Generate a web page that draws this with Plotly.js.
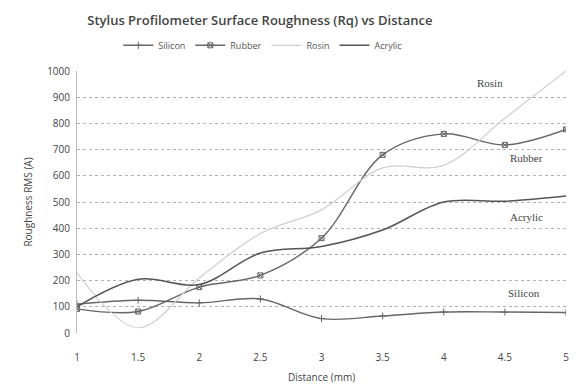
<!DOCTYPE html>
<html><head><meta charset="utf-8">
<script src="https://cdn.plot.ly/plotly-3.0.1.min.js"></script>
<style>html,body{margin:0;padding:0;background:#fff}#c{width:580px;height:389px}</style>
</head><body><div id="c"></div>
<script>
var distance = [1, 1.5, 2, 2.5, 3, 3.5, 4, 4.5, 5];
var silicon = [110, 125, 115, 130, 55, 65, 80, 80, 78];
var rubber = [92, 82, 175, 220, 362, 680, 760, 718, 777];
var rosin = [230, 20, 210, 380, 470, 630, 640, 820, 1000];
var acrylic = [100, 205, 185, 305, 330, 393, 500, 503, 523];
var xTicks = [1, 1.5, 2, 2.5, 3, 3.5, 4, 4.5, 5];
var xTickText = ['1', '1.5', '2', '2.5', '3', '3.5', '4', '4.5', '5'];
var seriesLabels = [
  {text: 'Rosin', x: 4.38, y: 955},
  {text: 'Rubber', x: 4.68, y: 668},
  {text: 'Acrylic', x: 4.68, y: 443},
  {text: 'Silicon', x: 4.66, y: 153}
];

var traces = [
  {x: distance, y: silicon, name: 'Silicon', mode: 'lines+markers',
   line: {color: '#666', width: 1.4, shape: 'spline', smoothing: 1},
   marker: {symbol: 'cross-thin-open', size: 5, color: '#666', line: {color: '#666', width: 1}}},
  {x: distance, y: rubber, name: 'Rubber', mode: 'lines+markers',
   line: {color: '#666', width: 1.4, shape: 'spline', smoothing: 1},
   marker: {symbol: 'square-x-open', size: 5, color: '#666', line: {color: '#666', width: 1}}},
  {x: distance, y: rosin, name: 'Rosin', mode: 'lines',
   line: {color: '#cfcfcf', width: 1.2, shape: 'spline', smoothing: 1}},
  {x: distance, y: acrylic, name: 'Acrylic', mode: 'lines',
   line: {color: '#555', width: 1.5, shape: 'spline', smoothing: 1}}
];

var layout = {
  width: 580, height: 389,
  margin: {l: 77, r: 14, t: 71, b: 56},
  paper_bgcolor: '#fff', plot_bgcolor: '#fff',
  font: {family: 'Open Sans, Liberation Sans, sans-serif', size: 10, color: '#444'},
  title: {text: 'Stylus Profilometer Surface Roughness (Rq) vs Distance',
          font: {size: 13, color: '#444', family: 'Open Sans, sans-serif', weight: 600},
          x: 0.448, xanchor: 'center', y: 0.948, yanchor: 'middle'},
  showlegend: true,
  legend: {orientation: 'h', x: 0.38, xanchor: 'center', y: 1.098, yanchor: 'middle',
           font: {size: 9, color: '#555'}, itemwidth: 30, tracegroupgap: 0},
  xaxis: {range: [1, 5], tickvals: xTicks, ticktext: xTickText,
          showgrid: false, zeroline: false, showline: false, ticks: '',
          ticklabelstandoff: 17, tickfont: {size: 10, color: '#444'},
          title: {text: 'Distance (mm)', font: {size: 10, color: '#444'}, standoff: 10}},
  yaxis: {range: [0, 1000], dtick: 100, showgrid: true, gridcolor: '#b0b0b0', griddash: 'dot',
          gridwidth: 1, zeroline: false, showline: true, linecolor: '#bbb', linewidth: 1,
          ticks: '', tickfont: {size: 10, color: '#444'}, ticklabelstandoff: 4,
          title: {text: 'Roughness RMS (A)', font: {size: 10, color: '#444'}, standoff: 12}},
  annotations: seriesLabels.map(function (s) {
    return {text: s.text, x: s.x, y: s.y, xref: 'x', yref: 'y', showarrow: false,
            font: {family: 'Liberation Serif, serif', size: 11, color: '#444'}};
  })
};

Plotly.newPlot('c', traces, layout, {displayModeBar: false, staticPlot: true});
</script></body></html>
